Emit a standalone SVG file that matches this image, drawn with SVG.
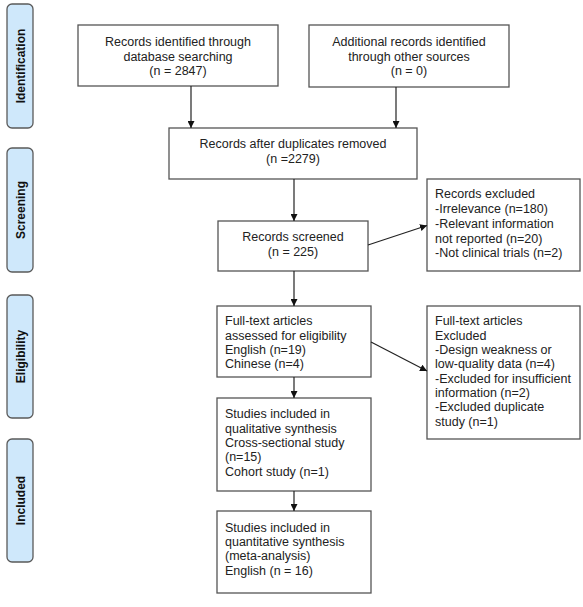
<svg xmlns="http://www.w3.org/2000/svg" width="583" height="607" viewBox="0 0 583 607">
<style>
.box{fill:#fff;stroke:#555;stroke-width:1.3}
.side{fill:#cfe8fb;stroke:#5a5a5a;stroke-width:1.3}
.t{font-family:"Liberation Sans",Arial,sans-serif;font-size:12.5px;fill:#222}
.c{text-anchor:middle}
.s{font-family:"Liberation Sans",Arial,sans-serif;font-size:12px;font-weight:bold;fill:#111;text-anchor:middle}
.ln{stroke:#222;stroke-width:1.2;fill:none;marker-end:url(#ah)}
</style>
<defs>
<marker id="ah" viewBox="0 0 10 10" refX="10" refY="5" markerWidth="7" markerHeight="7" markerUnits="userSpaceOnUse" orient="auto">
<path d="M0,0 L10,5 L0,10 z" fill="#111"/>
</marker>
</defs>
<rect width="583" height="607" fill="#fff"/>
<g id="side-identification"><rect class="side" x="7" y="4" width="26" height="124" rx="5"/><text class="s" transform="translate(24.5,66) rotate(-90)">Identification</text></g>
<g id="side-screening"><rect class="side" x="7" y="148" width="26" height="124" rx="5"/><text class="s" transform="translate(24.5,210) rotate(-90)">Screening</text></g>
<g id="side-eligibility"><rect class="side" x="7" y="295" width="26" height="123" rx="5"/><text class="s" transform="translate(24.5,356.5) rotate(-90)">Eligibility</text></g>
<g id="side-included"><rect class="side" x="7" y="439" width="26" height="123" rx="5"/><text class="s" transform="translate(24.5,500.5) rotate(-90)">Included</text></g>

<g id="identified">
<rect class="box" x="78" y="25" width="200" height="61"/>
<text class="t c" x="178" y="46">Records identified through</text>
<text class="t c" x="178" y="60.5">database searching</text>
<text class="t c" x="178" y="75">(n = 2847)</text>
</g>
<g id="additional">
<rect class="box" x="309" y="25" width="200" height="62"/>
<text class="t c" x="409" y="46">Additional records identified</text>
<text class="t c" x="409" y="60.5">through other sources</text>
<text class="t c" x="409" y="75">(n = 0)</text>
</g>
<g id="dedup">
<rect class="box" x="169" y="128" width="248" height="51"/>
<text class="t c" x="293" y="148">Records after duplicates removed</text>
<text class="t c" x="293" y="163">(n =2279)</text>
</g>
<g id="screened">
<rect class="box" x="218" y="221" width="150" height="50"/>
<text class="t c" x="293" y="241">Records screened</text>
<text class="t c" x="293" y="256">(n = 225)</text>
</g>
<g id="excluded1">
<rect class="box" x="427" y="179" width="153" height="92"/>
<text class="t" x="435" y="198">Records excluded</text>
<text class="t" x="435" y="213">-Irrelevance (n=180)</text>
<text class="t" x="435" y="228">-Relevant information</text>
<text class="t" x="435" y="242.5">not reported (n=20)</text>
<text class="t" x="435" y="257">-Not clinical trials (n=2)</text>
</g>
<g id="fulltext">
<rect class="box" x="217" y="306" width="154" height="71"/>
<text class="t" x="225" y="325">Full-text articles</text>
<text class="t" x="225" y="339.5">assessed for eligibility</text>
<text class="t" x="225" y="354">English (n=19)</text>
<text class="t" x="225" y="368">Chinese (n=4)</text>
</g>
<g id="excluded2">
<rect class="box" x="427" y="306" width="153" height="133"/>
<text class="t" x="435" y="325">Full-text articles</text>
<text class="t" x="435" y="339.5">Excluded</text>
<text class="t" x="435" y="354">-Design weakness or</text>
<text class="t" x="435" y="368">low-quality data (n=4)</text>
<text class="t" x="435" y="382.5">-Excluded for insufficient</text>
<text class="t" x="435" y="397">information (n=2)</text>
<text class="t" x="435" y="411">-Excluded duplicate</text>
<text class="t" x="435" y="425.5">study (n=1)</text>
</g>
<g id="qualitative">
<rect class="box" x="217" y="398" width="154" height="93"/>
<text class="t" x="225" y="418">Studies included in</text>
<text class="t" x="225" y="432.5">qualitative synthesis</text>
<text class="t" x="225" y="447">Cross-sectional study</text>
<text class="t" x="225" y="461">(n=15)</text>
<text class="t" x="225" y="475.5">Cohort study (n=1)</text>
</g>
<g id="quantitative">
<rect class="box" x="217" y="511" width="154" height="82"/>
<text class="t" x="225" y="532">Studies included in</text>
<text class="t" x="225" y="546">quantitative synthesis</text>
<text class="t" x="225" y="560">(meta-analysis)</text>
<text class="t" x="225" y="574.5">English (n = 16)</text>
</g>

<g id="connectors">
<line class="ln" x1="191" y1="86" x2="191" y2="128"/>
<line class="ln" x1="396" y1="87" x2="396" y2="128"/>
<line class="ln" x1="294" y1="179" x2="294" y2="221"/>
<line class="ln" x1="368" y1="245" x2="427" y2="225.5"/>
<line class="ln" x1="294" y1="271" x2="294" y2="306"/>
<line class="ln" x1="371" y1="342" x2="427" y2="371"/>
<line class="ln" x1="294" y1="377" x2="294" y2="398"/>
<line class="ln" x1="294" y1="491" x2="294" y2="511"/>
</g>
</svg>
